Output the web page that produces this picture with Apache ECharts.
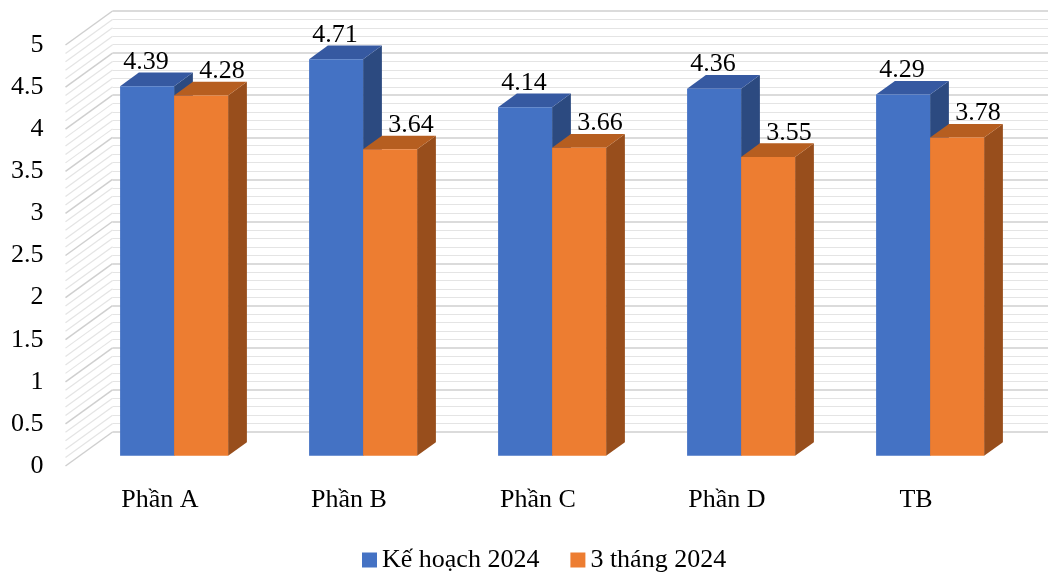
<!DOCTYPE html>
<html>
<head>
<meta charset="utf-8">
<script src="https://cdn.jsdelivr.net/npm/echarts@6/dist/echarts.min.js"></script>
<style>
html,body{margin:0;padding:0;background:#fff;}
#chart{width:1048px;height:572px;}
</style>
</head>
<body>
<div id="chart"></div>
<script>
const categories = ['Phần A', 'Phần B', 'Phần C', 'Phần D', 'TB'];
const seriesNames = ['Kế hoạch 2024', '3 tháng 2024'];
const planValues = [4.39, 4.71, 4.14, 4.36, 4.29];
const actualValues = [4.28, 3.64, 3.66, 3.55, 3.78];
const yMin = 0, yMax = 5, yInterval = 0.5, yMinorSplit = 5;

const FONT = "'Liberation Serif', 'Times New Roman', serif";
const DEPTH_X = 47, DEPTH_Y = -34;      // full depth offset of the 3D box
const BAR_D0 = 0.3, BAR_D1 = 0.7;       // bar depth span
const BAR_FRAC = 54 / 189;              // bar width / category band

const palettes = [
  { front: '#4472C4', top: '#3659A1', side: '#2C4A80', labelDx: -1 },
  { front: '#ED7D31', top: '#B65E20', side: '#984E1C', labelDx: 21 }
];

function makeBarRender(sIdx) {
  const pal = palettes[sIdx];
  return function (params, api) {
    const i = api.value(0), v = api.value(1);
    const p0 = api.coord([i, 0]);
    const p1 = api.coord([i, v]);
    const band = api.size([1, 0])[0];
    const w = band * BAR_FRAC;
    const xl = sIdx === 0 ? p0[0] - w : p0[0];
    const dx0 = DEPTH_X * BAR_D0, dy0 = DEPTH_Y * BAR_D0;
    const dx1 = DEPTH_X * BAR_D1, dy1 = DEPTH_Y * BAR_D1;
    const xr = xl + w;
    const yt = p1[1], yb = p0[1];
    return {
      type: 'group',
      children: [
        { type: 'polygon', shape: { points: [[xr + dx0, yt + dy0], [xr + dx1, yt + dy1], [xr + dx1, yb + dy1], [xr + dx0, yb + dy0]] },
          style: { fill: pal.side } },
        { type: 'polygon', shape: { points: [[xl + dx0, yt + dy0], [xr + dx0, yt + dy0], [xr + dx1, yt + dy1], [xl + dx1, yt + dy1]] },
          style: { fill: pal.top } },
        { type: 'rect', shape: { x: xl + dx0, y: yt + dy0, width: w, height: yb - yt },
          style: { fill: pal.front } },
        { type: 'text', style: { text: String(v), x: xl + dx0 + w / 2 + pal.labelDx, y: yt + dy1 - 10.5,
          align: 'center', verticalAlign: 'middle', font: '26px ' + FONT, fill: '#000' } }
      ]
    };
  };
}

// side wall gridline levels (decoration, derived from the axis settings)
const sideLevels = [];
for (let k = 0; k <= Math.round((yMax - yMin) / yInterval * yMinorSplit); k++) {
  sideLevels.push([k, yMin + k * yInterval / yMinorSplit]);
}

const chart = echarts.init(document.getElementById('chart'), null, { renderer: 'canvas' });
chart.setOption({
  animation: false,
  backgroundColor: '#fff',
  textStyle: { fontFamily: FONT },
  grid: [
    { left: 65.5, top: 45, width: 945, height: 421 },
    { left: 112.5, top: 11, width: 945, height: 421 }
  ],
  xAxis: [
    { type: 'category', gridIndex: 0, data: categories,
      axisLine: { show: false }, axisTick: { show: false }, splitLine: { show: false },
      axisLabel: { fontSize: 26, fontFamily: FONT, color: '#000', margin: 21 } },
    { type: 'value', gridIndex: 1, min: 0, max: 1, show: false }
  ],
  yAxis: [
    { type: 'value', gridIndex: 0, min: yMin, max: yMax, interval: yInterval,
      axisLine: { show: false }, axisTick: { show: false }, splitLine: { show: false },
      axisLabel: { fontSize: 26, fontFamily: FONT, color: '#000', margin: 22 } },
    { type: 'value', gridIndex: 1, min: yMin, max: yMax, interval: yInterval,
      axisLine: { show: false }, axisTick: { show: false }, axisLabel: { show: false },
      splitLine: { show: true, lineStyle: { color: '#cfcfcf', width: 1.5 } },
      minorTick: { show: false, splitNumber: yMinorSplit },
      minorSplitLine: { show: true, lineStyle: { color: '#e4e4e4', width: 1.2 } } }
  ],
  legend: {
    data: seriesNames, left: 357, top: 542, icon: 'rect', itemWidth: 15, itemHeight: 15, itemGap: 31,
    textStyle: { fontSize: 26, fontFamily: FONT, color: '#000' }
  },
  series: [
    { type: 'custom', name: 'sidewall', xAxisIndex: 0, yAxisIndex: 0, silent: true, z: 1,
      data: sideLevels,
      renderItem: function (params, api) {
        const k = api.value(0), v = api.value(1);
        const y = api.coord([0, v])[1];
        const x = params.coordSys.x;
        const major = k % yMinorSplit === 0;
        return { type: 'line', shape: { x1: x, y1: y, x2: x + DEPTH_X, y2: y + DEPTH_Y },
          style: { stroke: major ? '#cfcfcf' : '#e4e4e4', lineWidth: major ? 1.5 : 1.2 } };
      } },
    { type: 'custom', name: seriesNames[0], xAxisIndex: 0, yAxisIndex: 0, z: 3,
      itemStyle: { color: palettes[0].front },
      data: planValues.map((v, i) => [i, v]), renderItem: makeBarRender(0) },
    { type: 'custom', name: seriesNames[1], xAxisIndex: 0, yAxisIndex: 0, z: 3,
      itemStyle: { color: palettes[1].front },
      data: actualValues.map((v, i) => [i, v]), renderItem: makeBarRender(1) }
  ]
});
</script>
</body>
</html>
